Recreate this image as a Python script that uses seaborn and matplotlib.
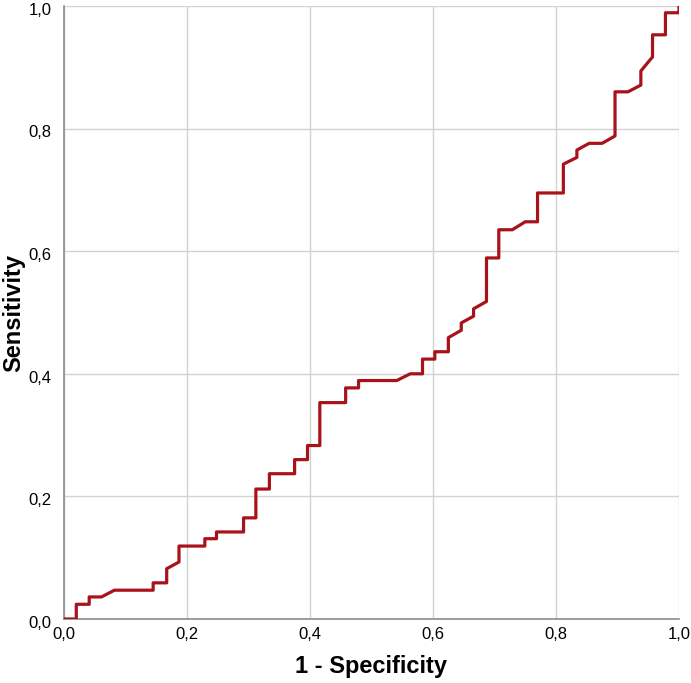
import pandas as pd
import numpy as np
import matplotlib
matplotlib.use('Agg')
import matplotlib.pyplot as plt
import matplotlib.transforms as mtransforms
import seaborn as sns

# ROC curve points
fpr = [0.0, 0.020, 0.020, 0.041, 0.041, 0.061, 0.082, 0.145, 0.145, 0.167,
       0.167, 0.187, 0.187, 0.229, 0.229, 0.248, 0.248, 0.292, 0.292, 0.312,
       0.312, 0.334, 0.334, 0.375, 0.375, 0.396, 0.396, 0.416, 0.416, 0.458,
       0.458, 0.479, 0.479, 0.541, 0.563, 0.583, 0.583, 0.603, 0.603, 0.625,
       0.625, 0.646, 0.646, 0.666, 0.666, 0.687, 0.687, 0.707, 0.707, 0.729,
       0.750, 0.770, 0.770, 0.812, 0.812, 0.834, 0.834, 0.854, 0.875, 0.896,
       0.896, 0.917, 0.938, 0.938, 0.957, 0.957, 0.978, 0.978, 1.0, 1.0]
tpr = [0.0, 0.0, 0.024, 0.024, 0.036, 0.036, 0.047, 0.047, 0.059, 0.059,
       0.082, 0.093, 0.119, 0.119, 0.131, 0.131, 0.142, 0.142, 0.165, 0.165,
       0.212, 0.212, 0.237, 0.237, 0.260, 0.260, 0.283, 0.283, 0.353, 0.353,
       0.377, 0.377, 0.389, 0.389, 0.400, 0.400, 0.424, 0.424, 0.436, 0.436,
       0.459, 0.471, 0.483, 0.494, 0.506, 0.518, 0.589, 0.589, 0.635, 0.635,
       0.648, 0.648, 0.695, 0.695, 0.742, 0.753, 0.765, 0.776, 0.776, 0.788,
       0.860, 0.860, 0.871, 0.894, 0.917, 0.953, 0.953, 0.989, 0.989, 1.0]

ticks = [0.0, 0.2, 0.4, 0.6, 0.8, 1.0]
tick_labels = ['0,0', '0,2', '0,4', '0,6', '0,8', '1,0']

df = pd.DataFrame({'fpr': fpr, 'tpr': tpr})

sns.set_style('white')
plt.rcParams['font.family'] = ['Liberation Sans', 'DejaVu Sans']

fig = plt.figure(figsize=(6.91, 6.83), dpi=100)
ax = fig.add_axes([0.0926, 0.0937, 0.890, 0.8975])

sns.lineplot(data=df, x='fpr', y='tpr', sort=False, estimator=None,
             color='#a8121a', linewidth=2.3, ax=ax, zorder=3)

ax.set_xlim(0, 1)
ax.set_ylim(0, 1)
ax.set_xticks(ticks)
ax.set_yticks(ticks)
ax.set_xticklabels(tick_labels, fontsize=12, color='black')
ax.set_yticklabels(tick_labels, fontsize=12, color='black')
ax.tick_params(axis='x', length=0, pad=6)
ax.tick_params(axis='y', length=0, pad=9)

# y tick labels sit a little below their gridlines in the reference
shift = mtransforms.ScaledTranslation(0, -2 / 72, fig.dpi_scale_trans)
for lab in ax.get_yticklabels():
    lab.set_transform(lab.get_transform() + shift)

ax.grid(True, color='#d2d2d2', linewidth=1)
ax.set_axisbelow(True)

for side in ['top', 'right']:
    ax.spines[side].set_visible(False)
for side in ['left', 'bottom']:
    ax.spines[side].set_color('#8c8c8c')
    ax.spines[side].set_linewidth(1.2)

ax.set_xlabel('1 - Specificity', fontsize=17, fontweight='bold', color='black', labelpad=9)
ax.set_ylabel('Sensitivity', fontsize=17, fontweight='bold', color='black', labelpad=2)

fig.savefig('out.png', dpi=100)
